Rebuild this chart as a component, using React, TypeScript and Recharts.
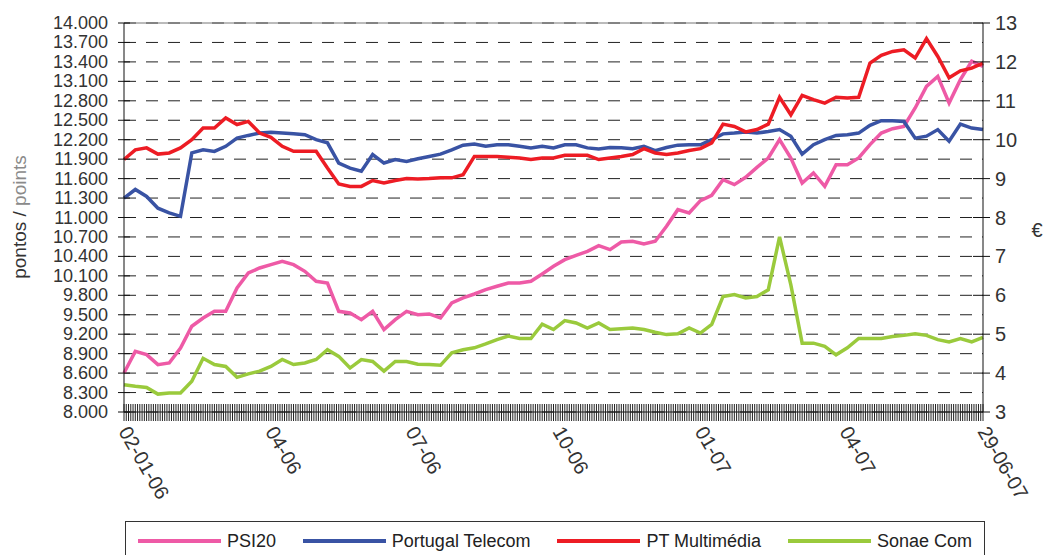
import { LineChart, Line, XAxis, YAxis, CartesianGrid, ReferenceLine } from "recharts";

const FONT = "'Liberation Sans', Arial, sans-serif";

// one reading per trading week (5 sessions), trading day index 0 = 02-01-06
const DAY_STEP = 5;
const LAST_DAY = 380;

const xLabelDays = [0, 65, 127, 192, 255, 319, 380];
const xLabels = ["02-01-06", "04-06", "07-06", "10-06", "01-07", "04-07", "29-06-07"];

const leftTicks = [
  8000, 8300, 8600, 8900, 9200, 9500, 9800, 10100, 10400, 10700, 11000,
  11300, 11600, 11900, 12200, 12500, 12800, 13100, 13400, 13700, 14000,
];
const rightTicks = [3, 4, 5, 6, 7, 8, 9, 10, 11, 12, 13];

const seriesKeys = ["psi20", "pt", "ptm", "sonae"];
const seriesNames = ["PSI20", "Portugal Telecom", "PT Multimédia", "Sonae Com"];
const seriesColors = ["#ee5aa6", "#3953a4", "#ed1c24", "#9aca3c"];
const seriesAxis = ["left", "right", "right", "right"];

// PSI20 (pontos)
const psi20 = [
  8602, 8936, 8885, 8730, 8756, 8987, 9322, 9450, 9553, 9553,
  9913, 10144, 10221, 10273, 10324, 10273, 10170, 10016, 9990, 9553,
  9527, 9424, 9553, 9270, 9424, 9553, 9501, 9512, 9450, 9682,
  9759, 9820, 9887, 9939, 9990, 9990, 10016, 10129, 10247, 10350,
  10417, 10478, 10566, 10504, 10622, 10633, 10592, 10633, 10864, 11121,
  11070, 11260, 11342, 11584, 11507, 11620, 11774, 11918, 12201, 11918,
  11532, 11687, 11481, 11815, 11815, 11918, 12124, 12303, 12370, 12406,
  12689, 13023, 13177, 12766, 13126, 13409, 13332,
];

// Portugal Telecom (€)
const portugalTelecom = [
  8.5, 8.72, 8.54, 8.24, 8.12, 8.03, 9.66, 9.74, 9.7, 9.83,
  10.04, 10.11, 10.17, 10.19, 10.17, 10.15, 10.13, 10.0, 9.92, 9.4,
  9.27, 9.19, 9.62, 9.4, 9.49, 9.44, 9.51, 9.57, 9.63, 9.74,
  9.86, 9.89, 9.83, 9.87, 9.87, 9.83, 9.79, 9.83, 9.79, 9.87,
  9.87, 9.79, 9.76, 9.8, 9.79, 9.77, 9.83, 9.72, 9.8, 9.86,
  9.87, 9.87, 10.0, 10.15, 10.17, 10.2, 10.17, 10.21, 10.26, 10.09,
  9.63, 9.87, 10.0, 10.11, 10.13, 10.17, 10.37, 10.49, 10.49, 10.47,
  10.04, 10.09, 10.26, 9.96, 10.4, 10.3, 10.26,
];

// PT Multimédia (€)
const ptMultimedia = [
  9.49, 9.74, 9.79, 9.63, 9.66, 9.79, 10.0, 10.3, 10.3, 10.56,
  10.39, 10.47, 10.17, 10.06, 9.83, 9.7, 9.7, 9.7, 9.27, 8.86,
  8.8, 8.8, 8.95, 8.89, 8.95, 9.0, 8.99, 9.0, 9.02, 9.02,
  9.1, 9.57, 9.57, 9.57, 9.55, 9.53, 9.49, 9.53, 9.53, 9.6,
  9.6, 9.6, 9.49, 9.53, 9.57, 9.62, 9.77, 9.66, 9.62, 9.66,
  9.72, 9.77, 9.92, 10.4, 10.34, 10.2, 10.26, 10.4, 11.09, 10.64,
  11.14, 11.03, 10.94, 11.09, 11.07, 11.09, 11.97, 12.17, 12.27, 12.31,
  12.1, 12.6, 12.14, 11.59, 11.77, 11.84, 11.97,
];

// Sonae Com (€)
const sonaeCom = [
  3.7, 3.66, 3.63, 3.46, 3.49, 3.49, 3.79, 4.38, 4.22, 4.17,
  3.89, 3.98, 4.05, 4.17, 4.35, 4.22, 4.26, 4.35, 4.6, 4.43,
  4.13, 4.35, 4.3, 4.05, 4.3, 4.3, 4.23, 4.22, 4.2, 4.52,
  4.6, 4.65, 4.75, 4.86, 4.95, 4.89, 4.89, 5.26, 5.12, 5.35,
  5.29, 5.16, 5.29, 5.12, 5.14, 5.16, 5.12, 5.05, 4.99, 5.01,
  5.16, 5.03, 5.25, 5.97, 6.02, 5.93, 5.97, 6.14, 7.5, 6.27,
  4.77, 4.77, 4.69, 4.47, 4.65, 4.89, 4.89, 4.89, 4.94, 4.97,
  5.01, 4.97, 4.86, 4.8, 4.89, 4.8, 4.92,
];

const data = psi20.map((v, i) => ({
  day: Math.min(i * DAY_STEP, LAST_DAY),
  psi20: v,
  pt: portugalTelecom[i],
  ptm: ptMultimedia[i],
  sonae: sonaeCom[i],
}));

const allDays = Array.from({ length: LAST_DAY + 1 }, (_, i) => i);

function formatPoints(v: number) {
  const th = Math.floor(v / 1000);
  return `${th}.${String(v % 1000).padStart(3, "0")}`;
}

function LeftTick(props: any) {
  const { x, y, payload } = props;
  return (
    <g>
      <line x1={x + 10} x2={x + 22} y1={y} y2={y} stroke="#111" />
      <text x={x} y={y} textAnchor="end" dominantBaseline="central" fontSize={18} fill="#333" fontFamily={FONT}>
        {formatPoints(payload.value)}
      </text>
    </g>
  );
}

function RightTick(props: any) {
  const { x, y, payload } = props;
  return (
    <g>
      <line x1={x - 22} x2={x - 5} y1={y} y2={y} stroke="#111" />
      <text x={x} y={y} textAnchor="start" dominantBaseline="central" fontSize={20} fill="#333" fontFamily={FONT}>
        {payload.value}
      </text>
    </g>
  );
}

function DayTick(props: any) {
  const { x, y, payload } = props;
  const idx = xLabelDays.indexOf(payload.value);
  return (
    <g>
      <line x1={x} x2={x} y1={y - 8} y2={y + 9} stroke="#222" />
      {idx >= 0 && (
        <text
          x={x}
          y={y + 16}
          transform={`rotate(60, ${x}, ${y + 16})`}
          textAnchor="start"
          dominantBaseline="central"
          fontSize={20}
          fill="#333"
          fontFamily={FONT}
        >
          {xLabels[idx]}
        </text>
      )}
    </g>
  );
}

export default function App() {
  return (
    <div
      style={{
        position: "absolute",
        left: 0,
        top: 0,
        width: 1043,
        height: 555,
        overflow: "hidden",
        background: "#fff",
        fontFamily: FONT,
      }}
    >
      <LineChart width={1043} height={555} data={data} margin={{ top: 23, right: 0, left: 0, bottom: 113 }}>
        <CartesianGrid yAxisId="left" vertical={false} stroke="#222" strokeDasharray="12 10" />
        <XAxis
          dataKey="day"
          type="number"
          domain={[0, LAST_DAY]}
          ticks={allDays}
          interval={0}
          height={30}
          tickSize={0}
          tickMargin={0}
          tickLine={false}
          axisLine={{ stroke: "#111" }}
          tick={<DayTick />}
        />
        <YAxis
          yAxisId="left"
          domain={[8000, 14000]}
          ticks={leftTicks}
          interval={0}
          width={124}
          tickSize={16}
          tickMargin={0}
          tickLine={false}
          axisLine={{ stroke: "#111" }}
          tick={<LeftTick />}
          label={{
            content: () => (
              <text
                x={19}
                y={217}
                transform="rotate(-90, 19, 217)"
                textAnchor="middle"
                dominantBaseline="central"
                fontSize={19}
                fontFamily={FONT}
              >
                <tspan fill="#333">pontos / </tspan>
                <tspan fill="#8a8a8a">points</tspan>
              </text>
            ),
          }}
        />
        <YAxis
          yAxisId="right"
          orientation="right"
          domain={[3, 13]}
          ticks={rightTicks}
          interval={0}
          width={60}
          tickSize={12}
          tickMargin={0}
          tickLine={false}
          axisLine={{ stroke: "#111" }}
          tick={<RightTick />}
          label={{
            content: () => (
              <text x={1037} y={230} textAnchor="middle" dominantBaseline="central" fontSize={20} fill="#333" fontFamily={FONT}>
                €
              </text>
            ),
          }}
        />
        <ReferenceLine yAxisId="left" y={14000} stroke="#777" />
        {seriesKeys.map((key, i) => (
          <Line
            key={key}
            yAxisId={seriesAxis[i]}
            dataKey={key}
            name={seriesNames[i]}
            stroke={seriesColors[i]}
            strokeWidth={3.5}
            dot={false}
            isAnimationActive={false}
          />
        ))}
      </LineChart>

      {/* legenda */}
      <div
        style={{
          position: "absolute",
          left: 125,
          top: 521,
          width: 860,
          height: 40,
          boxSizing: "border-box",
          border: "1px solid #333",
          display: "flex",
          alignItems: "center",
          justifyContent: "space-between",
          padding: "0 12px",
          fontSize: 18,
          color: "#222",
        }}
      >
        {seriesNames.map((name, i) => (
          <div key={name} style={{ display: "flex", alignItems: "center" }}>
            <span style={{ display: "inline-block", width: 83, height: 4, background: seriesColors[i], marginRight: 6 }} />
            <span>{name}</span>
          </div>
        ))}
      </div>
    </div>
  );
}
